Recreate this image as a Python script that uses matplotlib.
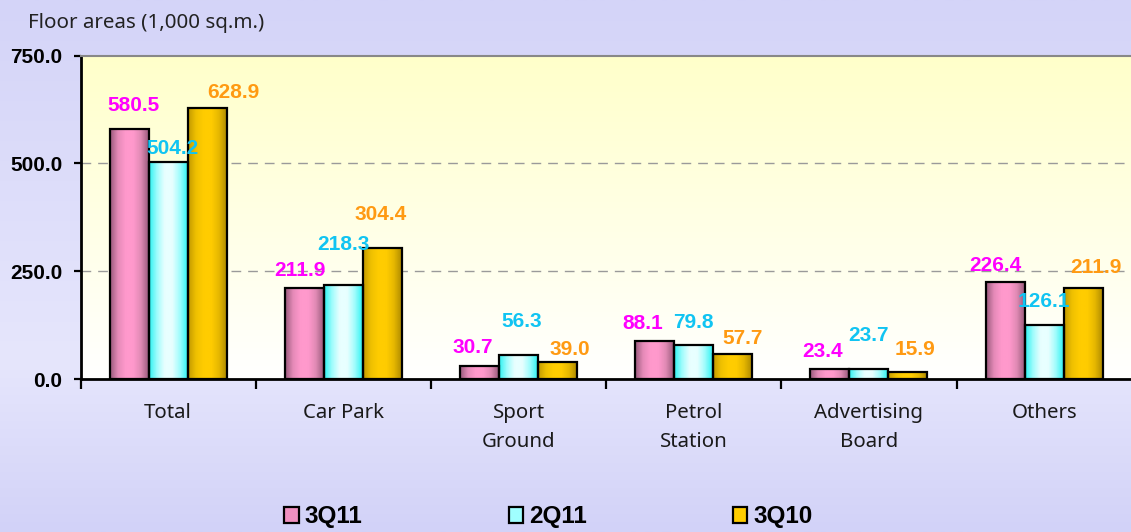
import numpy as np
import matplotlib
matplotlib.use("Agg")
import matplotlib.pyplot as plt
from matplotlib.colors import LinearSegmentedColormap
from matplotlib.patches import Patch

# ---- data ----
categories = ["Total", "Car Park", "Sport\nGround", "Petrol\nStation", "Advertising\nBoard", "Others"]
series_names = ["3Q11", "2Q11", "3Q10"]
q3_11 = [580.5, 211.9, 30.7, 88.1, 23.4, 226.4]
q2_11 = [504.2, 218.3, 56.3, 79.8, 23.7, 126.1]
q3_10 = [628.9, 304.4, 39.0, 57.7, 15.9, 211.9]
y_ticks = [0, 250, 500, 750]
y_label = "Floor areas (1,000 sq.m.)"

# ---- style ----
W, H, DPI = 1131, 532, 100
label_colors = ["#ff00ff", "#11c4f2", "#ff9a12"]
bar_grads = [
    ["#9a5a7c", "#e58ab8", "#ff99cc", "#ff99cc", "#e08ab4", "#9a5a7c"],
    ["#2ef2f2", "#9ffcfc", "#e8ffff", "#e8ffff", "#9ffcfc", "#2ef2f2"],
    ["#c29a00", "#efc000", "#ffcc00", "#ffcc00", "#e6b800", "#b08c00"],
]
legend_face = ["#f090c0", "#a0ffff", "#ffcc00"]
# label offsets (pixels: dx, dy of text centre relative to bar top centre)
label_offsets = [
    [(4, 25), (-4, 19), (-7, 21), (-12, 20), (-7, 20), (-10, 18)],
    [(4, 15), (0, 43), (3, 35), (0, 24), (0, 36), (0, 25)],
    [(26, 17), (-2, 35), (12, 15), (10, 18), (7, 25), (13, 22)],
]
bar_w = 0.2226
plt.rcParams['font.family'] = ['Noto Sans', 'DejaVu Sans']

fig = plt.figure(figsize=(W / DPI, H / DPI), dpi=DPI)

# figure background gradient (row 0 = top)
bg = fig.add_axes([0, 0, 1, 1], zorder=-10)
bg.axis("off")
bg_cmap = LinearSegmentedColormap.from_list(
    "bg", [(0, "#d4d4f8"), (0.68, "#e6e6fc"), (1.0, "#d2d2f8")])
bg.imshow(np.linspace(0, 1, 256).reshape(-1, 1), cmap=bg_cmap, aspect="auto",
          extent=[0, 1, 0, 1], transform=bg.transAxes, origin="upper")

left = 80.5 / W
bottom = (H - 379.3) / H
height = (379.3 - 55.5) / H
ax = fig.add_axes([left, bottom, 1 - left, height])
ax.set_facecolor("none")
cat_px = 175.2
x_right = -0.5 + (W - 80.5) / cat_px

# plot area gradient (yellow top -> white bottom)
pa_cmap = LinearSegmentedColormap.from_list("pa", ["#ffffca", "#ffffff"])
ax.imshow(np.linspace(0, 1, 256).reshape(-1, 1), cmap=pa_cmap, aspect="auto",
          extent=[0, 1, 0, 1], transform=ax.transAxes, origin="upper", zorder=0)

ax.set_xlim(-0.5, x_right)
ax.set_ylim(0, 750)

# grid
for v in y_ticks[1:-1]:
    ax.axhline(v, color="#9a9a9a", lw=1.0, ls=(0, (7, 5)), zorder=1)

x = np.arange(len(categories))
all_series = [q3_11, q2_11, q3_10]
grad_img = np.linspace(0, 1, 64).reshape(1, -1)
for i, vals in enumerate(all_series):
    xs = x + (i - 1) * bar_w
    cmap = LinearSegmentedColormap.from_list(f"b{i}", bar_grads[i])
    bars = ax.bar(xs, vals, width=bar_w, facecolor="none", edgecolor="black",
                  linewidth=1.6, zorder=4)
    for b, v in zip(bars, vals):
        x0 = b.get_x()
        im = ax.imshow(grad_img, cmap=cmap, aspect="auto",
                       extent=[x0, x0 + bar_w, 0, v], zorder=3, interpolation="bilinear")
        im.set_clip_path(b)
    fs = 15
    fs_px = fs * DPI / 72
    for j, v in enumerate(vals):
        dx, dy = label_offsets[i][j]
        ax.annotate(f"{v:.1f}", xy=(xs[j], v), xytext=(dx, dy - 0.36 * fs_px),
                    textcoords="offset pixels", ha="center", va="baseline",
                    fontsize=fs, fontweight="bold", color=label_colors[i],
                    family="Liberation Sans", zorder=6)

ax.set_xlim(-0.5, x_right)
ax.set_ylim(0, 750)

# spines
ax.spines["right"].set_visible(False)
ax.spines["top"].set_color("#888888")
ax.spines["top"].set_linewidth(1.5)
ax.spines["left"].set_linewidth(2.0)
ax.spines["bottom"].set_linewidth(2.0)
for s in ax.spines.values():
    s.set_zorder(7)

# y ticks
ax.set_yticks(y_ticks)
ax.set_yticklabels([f"{v:.1f}" for v in y_ticks], fontsize=15, fontweight="bold",
                   family="Liberation Sans")
ax.tick_params(axis="y", length=5, width=1.6, pad=8, direction="out")

# x ticks
ax.set_xticks(x)
ax.set_xticklabels(categories, fontsize=14.7, color="#1a1a1a", linespacing=1.62)
ax.tick_params(axis="x", which="major", length=0, pad=16.8)
ax.set_xticks(np.arange(-0.5, x_right, 1.0), minor=True)
ax.tick_params(axis="x", which="minor", length=7, width=1.6, direction="out")

fig.text(28 / W, 1 - 23 / H, y_label, fontsize=14.8, color="#222222",
         ha="left", va="center")

handles = [Patch(facecolor=legend_face[i], edgecolor="black", linewidth=1.6,
                 label=series_names[i]) for i in range(3)]
leg = fig.legend(handles=handles, loc="center", bbox_to_anchor=(548.5 / W, 1 - 517 / H),
                 ncol=3, frameon=False, handlelength=0.6, handleheight=0.62,
                 handletextpad=0.25, columnspacing=6.0,
                 prop={"family": "Liberation Sans", "weight": "bold", "size": 17.5})

fig.savefig("out.png", dpi=DPI)
